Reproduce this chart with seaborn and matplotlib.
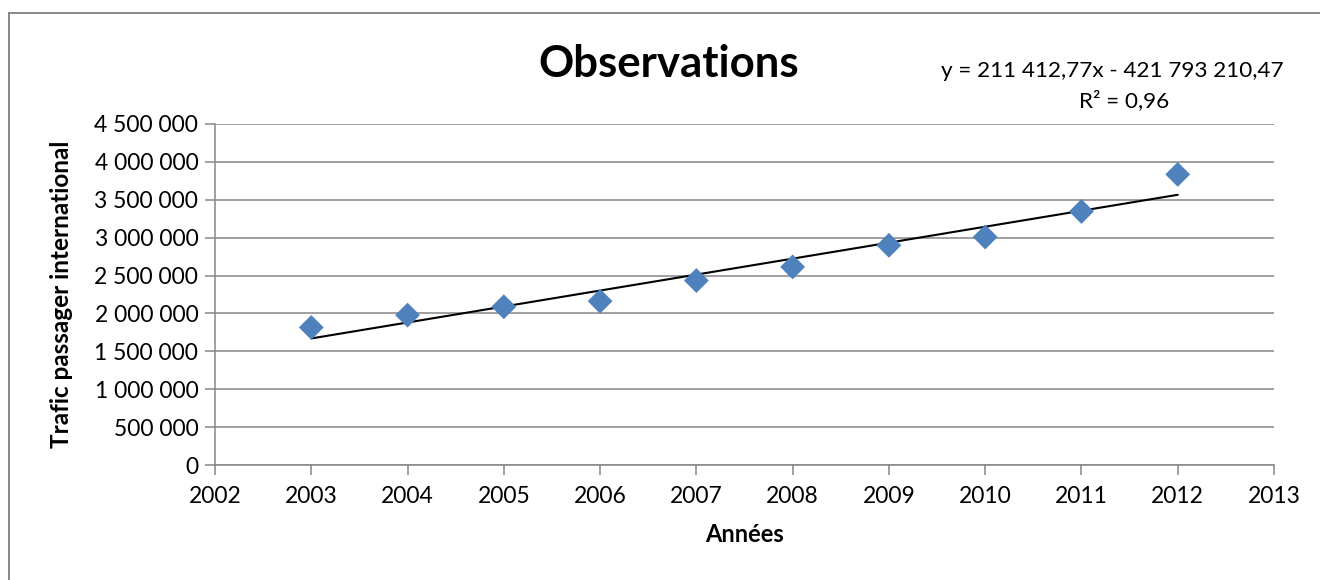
import matplotlib
matplotlib.use("Agg")
import matplotlib.pyplot as plt
from matplotlib.ticker import FuncFormatter, MultipleLocator
from matplotlib.lines import Line2D
import seaborn as sns
import pandas as pd

# International passenger traffic per year
annees = [2003, 2004, 2005, 2006, 2007, 2008, 2009, 2010, 2011, 2012]
trafic = [1815000, 1978000, 2088000, 2162000, 2434000,
          2614000, 2899000, 3009000, 3346000, 3835000]

titre = "Observations"
label_x = "Années"
label_y = "Trafic passager international"
equation = "y = 211 412,77x - 421 793 210,47"
r_carre = "R² = 0,96"

sns.set_theme(style="white")
plt.rcParams["font.family"] = ["Lato", "DejaVu Sans"]

W, H = 1320, 580
fig = plt.figure(figsize=(W / 100, H / 100), dpi=100)
ax = fig.add_axes([215 / W, 1 - 465 / H, (1274 - 215) / W, (465 - 124) / H])

df = pd.DataFrame({"annee": annees, "trafic": trafic})
grey = "#868686"

# Linear trendline
sns.regplot(data=df, x="annee", y="trafic", ci=None, scatter=False, ax=ax,
            line_kws={"color": "black", "lw": 1.5, "zorder": 3})
# Observations
sns.scatterplot(data=df, x="annee", y="trafic", marker="D", s=160,
                color="#4F81BD", edgecolor="none", ax=ax, zorder=4)

ax.set_xlim(2002, 2013)
ax.set_ylim(0, 4500000)
ax.xaxis.set_major_locator(MultipleLocator(1))
ax.yaxis.set_major_locator(MultipleLocator(500000))
ax.yaxis.set_major_formatter(FuncFormatter(lambda v, p: f"{int(v):,}".replace(",", " ")))
ax.xaxis.set_major_formatter(FuncFormatter(lambda v, p: f"{int(round(v))}"))

ax.grid(axis="y", color=grey, lw=1.1)
ax.grid(axis="x", visible=False)
ax.set_axisbelow(True)
for side in ("top", "right"):
    ax.spines[side].set_visible(False)
for side in ("left", "bottom"):
    ax.spines[side].set_color(grey)
    ax.spines[side].set_linewidth(1.1)
ax.tick_params(axis="both", which="major", direction="out", length=7, width=1.1,
               color=grey, labelsize=16.5, labelcolor="black", pad=5,
               left=True, bottom=True)
ax.tick_params(axis="x", pad=8)
ax.set_xlabel("")
ax.set_ylabel("")

fig.text(744.5 / W, 1 - 541.7 / H, label_x, ha="center", va="baseline",
         fontsize=17, fontweight="bold", color="black")
fig.text(62 / W, 1 - 294.5 / H, label_y, ha="center", va="center", rotation=90,
         fontsize=17.5, fontweight="bold", color="black")
fig.text(669 / W, 1 - 77 / H, titre, ha="center", va="baseline",
         fontsize=31.5, fontweight="bold", color="black")
fig.text(1112.5 / W, 1 - 76.7 / H, equation, ha="center", va="baseline",
         fontsize=16.2, color="black")
fig.text(1124 / W, 1 - 106.7 / H, r_carre, ha="center", va="baseline",
         fontsize=16.2, color="black")

# Chart area frame (left and top edges)
fig.add_artist(Line2D([8.5 / W, 8.5 / W], [0, 1 - 12.5 / H], color=grey, lw=1.4,
                      transform=fig.transFigure))
fig.add_artist(Line2D([8.5 / W, 1], [1 - 12.5 / H, 1 - 12.5 / H], color=grey, lw=1.4,
                      transform=fig.transFigure))

fig.savefig("out.png", dpi=100, facecolor="white")
